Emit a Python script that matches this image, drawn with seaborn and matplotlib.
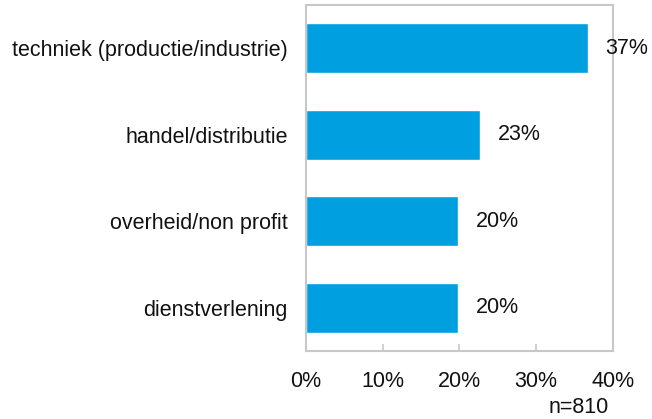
import pandas as pd
import matplotlib.pyplot as plt
import seaborn as sns

# Gegevens
sectoren = ["techniek (productie/industrie)", "handel/distributie",
            "overheid/non profit", "dienstverlening"]
percentages = [36.7, 22.7, 19.8, 19.8]
labels = ["37%", "23%", "20%", "20%"]
x_ticks = [0, 10, 20, 30, 40]
x_tick_labels = ["0%", "10%", "20%", "30%", "40%"]
n_tekst = "n=810"

df = pd.DataFrame({"sector": sectoren, "pct": percentages})

sns.set_style("white")
plt.rcParams["font.family"] = ["Liberation Sans", "DejaVu Sans"]

fig = plt.figure(figsize=(6.52, 4.19), dpi=100)
ax = fig.add_axes([0.469, 0.162, 0.471, 0.826])

sns.barplot(data=df, x="pct", y="sector", orient="h", color="#009FE0",
            saturation=1, width=0.58, ax=ax)

# Labels rechts van de balken
ax.bar_label(ax.containers[0], labels=labels, padding=13, fontsize=15.5,
             color="#111111")

ax.set_xlim(0, 40)
ax.set_xticks(x_ticks)
ax.set_xticklabels(x_tick_labels)
ax.set_xlabel("")
ax.set_ylabel("")

for s in ax.spines.values():
    s.set_color("#c8c8c8")
    s.set_linewidth(1.5)
    s.set_visible(True)

ax.tick_params(axis="x", bottom=True, direction="in", length=5, width=1.2,
               color="#c8c8c8", pad=14, labelsize=15.5, labelcolor="#111111")
ax.tick_params(axis="y", length=0, pad=13, labelsize=15.5, labelcolor="#111111")

fig.text(0.933, 0.028, n_tekst, ha="right", va="center", fontsize=15.5,
         color="#111111")

fig.savefig("out.png", dpi=100)
